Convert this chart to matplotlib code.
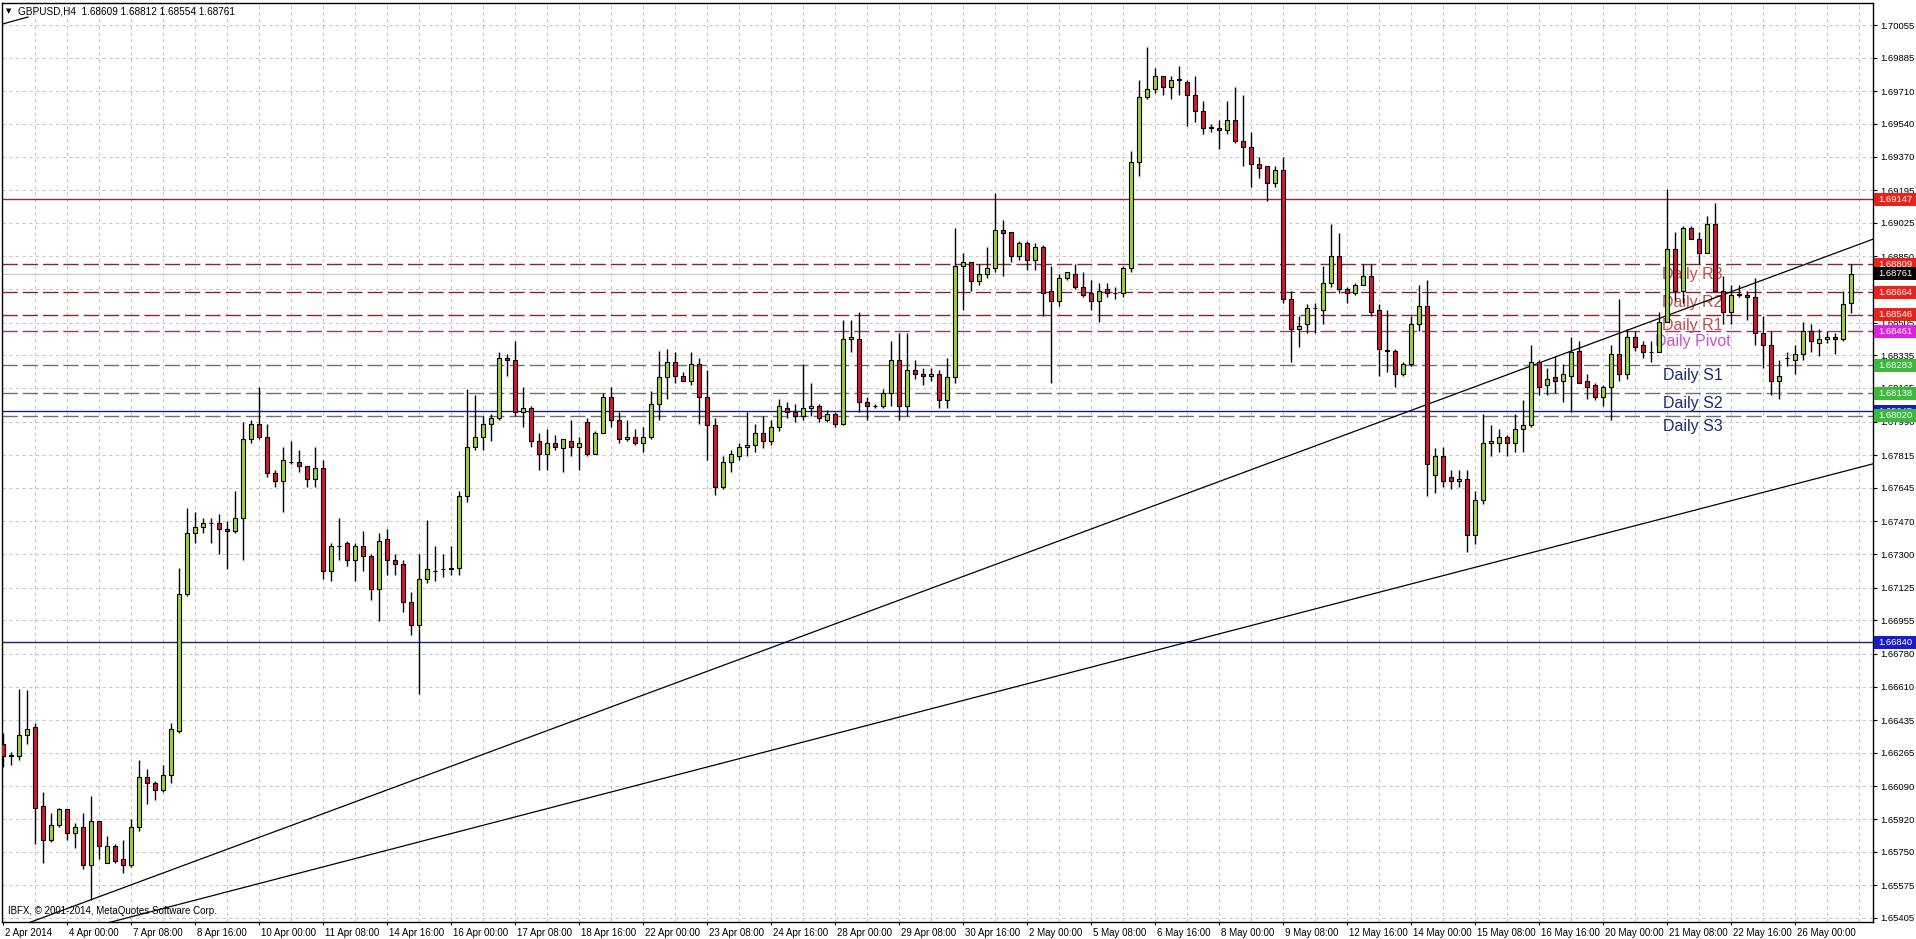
import matplotlib
matplotlib.use('Agg')
import matplotlib.pyplot as plt
from matplotlib.patches import Rectangle
from matplotlib.transforms import blended_transform_factory, ScaledTranslation

plt.rcParams['font.family'] = ['Liberation Sans', 'DejaVu Sans']

# GBPUSD H4 candles, 2 Apr 16:00 .. 27 May 04:00
opens = [1.6631, 1.6625, 1.6625, 1.6636, 1.6640, 1.6599, 1.6581, 1.6589, 1.6597, 1.6585,
         1.6588, 1.6568, 1.6591, 1.6569, 1.6578, 1.6571, 1.6568, 1.6588, 1.6614, 1.6611,
         1.6607, 1.6615, 1.6638, 1.6709, 1.6741, 1.6744, 1.6746, 1.6746, 1.6743, 1.6742,
         1.6749, 1.6790, 1.6798, 1.6791, 1.6772, 1.6768, 1.6778, 1.6778, 1.6776, 1.6769,
         1.6775, 1.6721, 1.6734, 1.6736, 1.6727, 1.6734, 1.6729, 1.6712, 1.6738, 1.6727,
         1.6725, 1.6705, 1.6693, 1.6717, 1.6721, 1.6722, 1.6722, 1.6723, 1.6760, 1.6786,
         1.6791, 1.6798, 1.6801, 1.6832, 1.6831, 1.6804, 1.6806, 1.6789, 1.6782, 1.6788,
         1.6785, 1.6789, 1.6786, 1.6799, 1.6782, 1.6793, 1.6812, 1.6800, 1.6790, 1.6791,
         1.6788, 1.6791, 1.6808, 1.6822, 1.6830, 1.6823, 1.6820, 1.6829, 1.6812, 1.6797,
         1.6765, 1.6778, 1.6781, 1.6786, 1.6787, 1.6793, 1.6789, 1.6796, 1.6806, 1.6804,
         1.6802, 1.6806, 1.6807, 1.6800, 1.6803, 1.6798, 1.6842, 1.6842, 1.6809, 1.6807,
         1.6807, 1.6814, 1.6831, 1.6807, 1.6826, 1.6824, 1.6823, 1.6824, 1.6810, 1.6822,
         1.6880, 1.6882, 1.6872, 1.6876, 1.6879, 1.6899, 1.6898, 1.6885, 1.6892, 1.6883,
         1.6890, 1.6867, 1.6862, 1.6874, 1.6876, 1.6869, 1.6866, 1.6862, 1.6868, 1.6866,
         1.6866, 1.6879, 1.6934, 1.6968, 1.6972, 1.6979, 1.6973, 1.6977, 1.6976, 1.6969,
         1.6961, 1.6952, 1.6952, 1.6951, 1.6956, 1.6945, 1.6942, 1.6933, 1.6932, 1.6923,
         1.6930, 1.6863, 1.6847, 1.6850, 1.6858, 1.6857, 1.6871, 1.6885, 1.6868, 1.6866,
         1.6870, 1.6875, 1.6857, 1.6836, 1.6836, 1.6824, 1.6829, 1.6850, 1.6859, 1.6771,
         1.6781, 1.6770, 1.6768, 1.6769, 1.6740, 1.6758, 1.6788, 1.6788, 1.6791, 1.6788,
         1.6795, 1.6797, 1.6830, 1.6818, 1.6822, 1.6820, 1.6823, 1.6836, 1.6820, 1.6818,
         1.6812, 1.6817, 1.6834, 1.6824, 1.6843, 1.6839, 1.6835, 1.6835, 1.6851, 1.6889,
         1.6867, 1.6900, 1.6894, 1.6887, 1.6902, 1.6867, 1.6856, 1.6865, 1.6865, 1.6864,
         1.6845, 1.6839, 1.6820, 1.6832, 1.6831, 1.6834, 1.6846, 1.6840, 1.6842, 1.6843,
         1.6842, 1.68609]
highs = [1.6637, 1.6627, 1.6660, 1.6659, 1.6642, 1.6606, 1.6595, 1.6598, 1.6597, 1.6590,
         1.6595, 1.6604, 1.6591, 1.6583, 1.6579, 1.6581, 1.6592, 1.6623, 1.6618, 1.6612,
         1.6620, 1.6642, 1.6723, 1.6754, 1.6752, 1.6749, 1.6749, 1.6751, 1.6747, 1.6763,
         1.6799, 1.6800, 1.6817, 1.6798, 1.6774, 1.6786, 1.6789, 1.6784, 1.6776, 1.6786,
         1.6779, 1.6736, 1.6749, 1.6737, 1.6736, 1.6742, 1.6730, 1.6741, 1.6743, 1.6730,
         1.6727, 1.6710, 1.6730, 1.6748, 1.6734, 1.6730, 1.6734, 1.6763, 1.6816, 1.6813,
         1.6802, 1.6803, 1.6835, 1.6834, 1.6841, 1.6817, 1.6807, 1.6793, 1.6795, 1.6792,
         1.6790, 1.6800, 1.6791, 1.6801, 1.6794, 1.6814, 1.6817, 1.6804, 1.6800, 1.6795,
         1.6796, 1.6815, 1.6836, 1.6837, 1.6835, 1.6825, 1.6835, 1.6832, 1.6826, 1.6801,
         1.6781, 1.6784, 1.6788, 1.6804, 1.6798, 1.6802, 1.6800, 1.6811, 1.6809, 1.6808,
         1.6829, 1.6819, 1.6808, 1.6805, 1.6804, 1.6852, 1.6852, 1.6856, 1.6812, 1.6808,
         1.6816, 1.6841, 1.6845, 1.6845, 1.6831, 1.6827, 1.6827, 1.6826, 1.6832, 1.6900,
         1.6887, 1.6882, 1.6881, 1.6890, 1.6918, 1.6904, 1.6898, 1.6893, 1.6893, 1.6892,
         1.6891, 1.6880, 1.6876, 1.6877, 1.6881, 1.6877, 1.6873, 1.6871, 1.6871, 1.6869,
         1.6880, 1.6940, 1.6977, 1.6994, 1.6983, 1.6979, 1.6979, 1.6984, 1.6977, 1.6979,
         1.6966, 1.6954, 1.6956, 1.6966, 1.6973, 1.6969, 1.6950, 1.6937, 1.6932, 1.6932,
         1.6937, 1.6867, 1.6854, 1.6860, 1.6861, 1.6880, 1.6902, 1.6897, 1.6869, 1.6871,
         1.6881, 1.6881, 1.6860, 1.6857, 1.6837, 1.6830, 1.6854, 1.6870, 1.6873, 1.6785,
         1.6786, 1.6774, 1.6774, 1.6774, 1.6763, 1.6803, 1.6797, 1.6795, 1.6792, 1.6803,
         1.6810, 1.6839, 1.6831, 1.6827, 1.6833, 1.6829, 1.6843, 1.6841, 1.6824, 1.6819,
         1.6818, 1.6839, 1.6863, 1.6847, 1.6846, 1.6841, 1.6841, 1.6856, 1.6920, 1.6898,
         1.6901, 1.6901, 1.6898, 1.6906, 1.6913, 1.6875, 1.6870, 1.6870, 1.6867, 1.6874,
         1.6854, 1.6846, 1.6831, 1.6835, 1.6839, 1.6851, 1.6850, 1.6847, 1.6846, 1.6845,
         1.6867, 1.68812]
lows = [1.6619, 1.6620, 1.6623, 1.6631, 1.6579, 1.6569, 1.6580, 1.6588, 1.6581, 1.6577,
        1.6566, 1.6550, 1.6571, 1.6569, 1.6569, 1.6564, 1.6567, 1.6586, 1.6600, 1.6602,
        1.6606, 1.6611, 1.6637, 1.6708, 1.6736, 1.6741, 1.6736, 1.6730, 1.6722, 1.6741,
        1.6727, 1.6788, 1.6790, 1.6770, 1.6765, 1.6752, 1.6777, 1.6773, 1.6765, 1.6765,
        1.6717, 1.6716, 1.6727, 1.6724, 1.6716, 1.6721, 1.6706, 1.6695, 1.6719, 1.6719,
        1.6700, 1.6688, 1.6657, 1.6715, 1.6716, 1.6718, 1.6719, 1.6719, 1.6757, 1.6784,
        1.6784, 1.6789, 1.6800, 1.6823, 1.6802, 1.6796, 1.6786, 1.6774, 1.6774, 1.6784,
        1.6773, 1.6781, 1.6774, 1.6781, 1.6782, 1.6793, 1.6796, 1.6788, 1.6789, 1.6787,
        1.6783, 1.6790, 1.6800, 1.6811, 1.6819, 1.6820, 1.6818, 1.6798, 1.6779, 1.6761,
        1.6764, 1.6773, 1.6779, 1.6781, 1.6783, 1.6785, 1.6787, 1.6794, 1.6801, 1.6799,
        1.6800, 1.6802, 1.6799, 1.6799, 1.6796, 1.6797, 1.6835, 1.6804, 1.6800, 1.6806,
        1.6806, 1.6807, 1.6800, 1.6802, 1.6821, 1.6818, 1.6820, 1.6806, 1.6806, 1.6819,
        1.6857, 1.6867, 1.6870, 1.6874, 1.6877, 1.6875, 1.6882, 1.6883, 1.6878, 1.6878,
        1.6854, 1.6819, 1.6859, 1.6873, 1.6868, 1.6864, 1.6857, 1.6851, 1.6864, 1.6863,
        1.6864, 1.6877, 1.6927, 1.6967, 1.6970, 1.6969, 1.6967, 1.6969, 1.6953, 1.6955,
        1.6949, 1.6950, 1.6941, 1.6949, 1.6944, 1.6932, 1.6921, 1.6926, 1.6914, 1.6921,
        1.6861, 1.6830, 1.6838, 1.6845, 1.6845, 1.6850, 1.6869, 1.6866, 1.6861, 1.6865,
        1.6870, 1.6854, 1.6823, 1.6825, 1.6817, 1.6823, 1.6828, 1.6846, 1.6760, 1.6762,
        1.6765, 1.6764, 1.6765, 1.6731, 1.6735, 1.6756, 1.6781, 1.6783, 1.6781, 1.6783,
        1.6783, 1.6796, 1.6813, 1.6813, 1.6814, 1.6809, 1.6804, 1.6819, 1.6811, 1.6810,
        1.6807, 1.6800, 1.6820, 1.6821, 1.6836, 1.6832, 1.6830, 1.6835, 1.6851, 1.6862,
        1.6861, 1.6894, 1.6881, 1.6887, 1.6867, 1.6850, 1.6850, 1.6864, 1.6852, 1.6839,
        1.6827, 1.6813, 1.6811, 1.6828, 1.6824, 1.6831, 1.6835, 1.6833, 1.6840, 1.6834,
        1.6841, 1.68554]
closes = [1.6625, 1.6625, 1.6636, 1.6639, 1.6598, 1.6581, 1.6589, 1.6597, 1.6585, 1.6588,
          1.6568, 1.6591, 1.6578, 1.6578, 1.6570, 1.6568, 1.6588, 1.6614, 1.6611, 1.6607,
          1.6615, 1.6639, 1.6709, 1.6741, 1.6744, 1.6746, 1.6746, 1.6743, 1.6742, 1.6749,
          1.6790, 1.6798, 1.6791, 1.6772, 1.6768, 1.6779, 1.6778, 1.6776, 1.6769, 1.6775,
          1.6721, 1.6734, 1.6734, 1.6727, 1.6734, 1.6729, 1.6712, 1.6737, 1.6727, 1.6725,
          1.6705, 1.6693, 1.6717, 1.6722, 1.6721, 1.6722, 1.6723, 1.6760, 1.6786, 1.6791,
          1.6798, 1.6801, 1.6832, 1.6831, 1.6804, 1.6806, 1.6789, 1.6782, 1.6788, 1.6786,
          1.6790, 1.6786, 1.6788, 1.6782, 1.6793, 1.6812, 1.6800, 1.6790, 1.6791, 1.6788,
          1.6791, 1.6808, 1.6822, 1.6830, 1.6823, 1.6820, 1.6829, 1.6812, 1.6797, 1.6765,
          1.6778, 1.6782, 1.6786, 1.6787, 1.6793, 1.6789, 1.6796, 1.6807, 1.6804, 1.6802,
          1.6806, 1.6807, 1.6801, 1.6803, 1.6798, 1.6842, 1.6843, 1.6809, 1.6807, 1.6807,
          1.6814, 1.6831, 1.6807, 1.6826, 1.6824, 1.6823, 1.6824, 1.6810, 1.6822, 1.6880,
          1.6882, 1.6872, 1.6876, 1.6879, 1.6899, 1.6897, 1.6885, 1.6892, 1.6883, 1.6890,
          1.6866, 1.6862, 1.6874, 1.6877, 1.6869, 1.6865, 1.6862, 1.6867, 1.6866, 1.6866,
          1.6879, 1.6934, 1.6968, 1.6972, 1.6979, 1.6973, 1.6977, 1.6977, 1.6969, 1.6961,
          1.6952, 1.6952, 1.6951, 1.6956, 1.6945, 1.6942, 1.6933, 1.6931, 1.6923, 1.6930,
          1.6863, 1.6847, 1.6849, 1.6858, 1.6858, 1.6871, 1.6885, 1.6868, 1.6866, 1.6870,
          1.6875, 1.6856, 1.6837, 1.6836, 1.6824, 1.6829, 1.6850, 1.6859, 1.6777, 1.6781,
          1.6768, 1.6768, 1.6769, 1.6740, 1.6758, 1.6788, 1.6789, 1.6791, 1.6788, 1.6795,
          1.6797, 1.6830, 1.6817, 1.6821, 1.6820, 1.6824, 1.6835, 1.6819, 1.6817, 1.6812,
          1.6817, 1.6834, 1.6824, 1.6843, 1.6838, 1.6835, 1.6835, 1.6851, 1.6889, 1.6867,
          1.6900, 1.6894, 1.6887, 1.6902, 1.6867, 1.6856, 1.6865, 1.6865, 1.6864, 1.6845,
          1.6839, 1.6820, 1.6823, 1.6832, 1.6834, 1.6846, 1.6841, 1.6842, 1.6843, 1.6842,
          1.6860, 1.68761]

time_labels = ['2 Apr 2014', '4 Apr 00:00', '7 Apr 08:00', '8 Apr 16:00', '10 Apr 00:00',
               '11 Apr 08:00', '14 Apr 16:00', '16 Apr 00:00', '17 Apr 08:00', '18 Apr 16:00',
               '22 Apr 00:00', '23 Apr 08:00', '24 Apr 16:00', '28 Apr 00:00', '29 Apr 08:00',
               '30 Apr 16:00', '2 May 00:00', '5 May 08:00', '6 May 16:00', '8 May 00:00',
               '9 May 08:00', '12 May 16:00', '14 May 00:00', '15 May 08:00', '16 May 16:00',
               '20 May 00:00', '21 May 08:00', '22 May 16:00', '26 May 00:00']

price_ticks = [1.70055, 1.69885, 1.69710, 1.69540, 1.69370, 1.69195, 1.69025, 1.68850,
               1.68680, 1.68505, 1.68335, 1.68165, 1.67990, 1.67815, 1.67645, 1.67470,
               1.67300, 1.67125, 1.66955, 1.66780, 1.66610, 1.66435, 1.66265, 1.66090,
               1.65920, 1.65750, 1.65575, 1.65405]

pivot_names = ['Daily R3', 'Daily R2', 'Daily R1', 'Daily Pivot', 'Daily S1', 'Daily S2', 'Daily S3']
pivot_values = [1.68809, 1.68664, 1.68546, 1.68461, 1.68283, 1.68138, 1.68020]
pivot_line_colors = ['#8c2233', '#8c2233', '#8c2233', '#9a3a74', '#707070', '#707070', '#707070']
pivot_text_colors = ['#c0504d', '#c0504d', '#c0504d', '#c852c8', '#1c2a6e', '#1c2a6e', '#1c2a6e']

resistance_level = 1.69147
support_levels = [1.68045, 1.66840]
bid_price = 1.68761

# trend lines as pairs of (bar index, price)
trend_lines = [((11, 1.6550), (233.75, 1.6894)),
               ((15, 1.6540), (233.75, 1.6777)),
               ((-0.125, 1.70060), (3.125, 1.70097))]

box_values = [1.69147, 1.68809, 1.68761, 1.68664, 1.68546, 1.68461, 1.68283,
              1.68138, 1.68045, 1.68020, 1.66840]
box_colors = ['#e8231c', '#e8231c', '#000000', '#e8231c', '#e8231c', '#e020e0', '#3cb83c',
              '#3cb83c', '#1a1acc', '#3cb83c', '#1a1acc']

W, H = 1916, 939
fig = plt.figure(figsize=(W / 100, H / 100), dpi=100)
ax = fig.add_axes([2 / W, 1 - 922 / H, 1871 / W, 919 / H])
ax.set_xlim(-0.125, 233.75)
ax.set_ylim(1.65384, 1.70170)

# grid
for p in price_ticks:
    ax.axhline(p, color='#c8c8c8', lw=0.8, linestyle=(0, (3, 3)), zorder=0)
for i in range(4, 234, 4):
    ax.axvline(i, color='#c8c8c8', lw=0.8, linestyle=(0, (3, 3)), zorder=0)

# levels
ax.axhline(resistance_level, color='#a02040', lw=1.0, zorder=1)
for v, c in zip(pivot_values, pivot_line_colors):
    ax.axhline(v, color=c, lw=1.0, linestyle=(0, (11, 3.6)), zorder=1)
for v in support_levels:
    ax.axhline(v, color='#1c1c8c', lw=1.0, zorder=1)
ax.axhline(bid_price, color='#c8c8c8', lw=0.8, zorder=1)

for name, v, c in zip(pivot_names, pivot_values, pivot_text_colors):
    ax.text(211.2, v - 0.00054, name, ha='center', va='center', fontsize=11.5, color=c, zorder=1.5)

# trend lines, extended to the left edge and clipped by the axes
for (x1, y1), (x2, y2) in trend_lines[:2]:
    slope = (y2 - y1) / (x2 - x1)
    ax.plot([-1, x2], [y1 + slope * (-1 - x1), y2], color='black', lw=0.9, zorder=2)
(x1, y1), (x2, y2) = trend_lines[2]
ax.plot([x1, x2], [y1, y2], color='black', lw=0.9, zorder=2)

# candles
xs = list(range(len(opens)))
ax.vlines(xs, lows, highs, color='black', lw=1.0, zorder=3)
for i in xs:
    o, c = opens[i], closes[i]
    col = '#9bd14b' if c >= o else '#d01c2a'
    ax.bar(i, max(abs(c - o), 0.00002), bottom=min(o, c), width=0.62,
           color=col, edgecolor='black', linewidth=0.8, zorder=4)

# axes styling
for s in ax.spines.values():
    s.set_color('black')
    s.set_linewidth(1.0)
ax.yaxis.tick_right()
ax.set_yticks(price_ticks)
ax.set_yticklabels([f'{p:.5f}' for p in price_ticks])
ax.tick_params(axis='y', length=2.9, pad=2.2, width=0.8, labelsize=6.8)
ax.set_xticks(range(0, 8 * len(time_labels), 8))
ax.set_xticklabels(time_labels, ha='left')
ax.tick_params(axis='x', length=2.5, pad=1.5, width=0.8, labelsize=7)
for lab in ax.get_xticklabels():
    lab.set_transform(lab.get_transform() + ScaledTranslation(2 / 100, 0, fig.dpi_scale_trans))

# coloured price labels on the price scale
trans = blended_transform_factory(fig.transFigure, ax.transData)
half = 6.5 * (1.70170 - 1.65384) / 919
for k, (v, c) in enumerate(zip(box_values, box_colors)):
    rect = Rectangle((1874 / W, v - half), 42 / W, 2 * half, transform=trans,
                     facecolor=c, edgecolor='none', zorder=5 + 2 * k)
    fig.add_artist(rect)
    fig.text(1878 / W, v, f'{v:.5f}', transform=trans, color='white', fontsize=6.8,
             va='center', ha='left', zorder=6 + 2 * k)

# header and copyright
fig.text(6 / W, 1 - 11 / H, '▼', fontsize=5, va='center', family='DejaVu Sans')
fig.text(18 / W, 1 - 11 / H, 'GBPUSD,H4  1.68609 1.68812 1.68554 1.68761', fontsize=7.2, va='center')
fig.text(8 / W, 1 - 911 / H, 'IBFX, © 2001-2014, MetaQuotes Software Corp.', fontsize=7, va='center')

fig.savefig('out.png', dpi=100, facecolor='white')
